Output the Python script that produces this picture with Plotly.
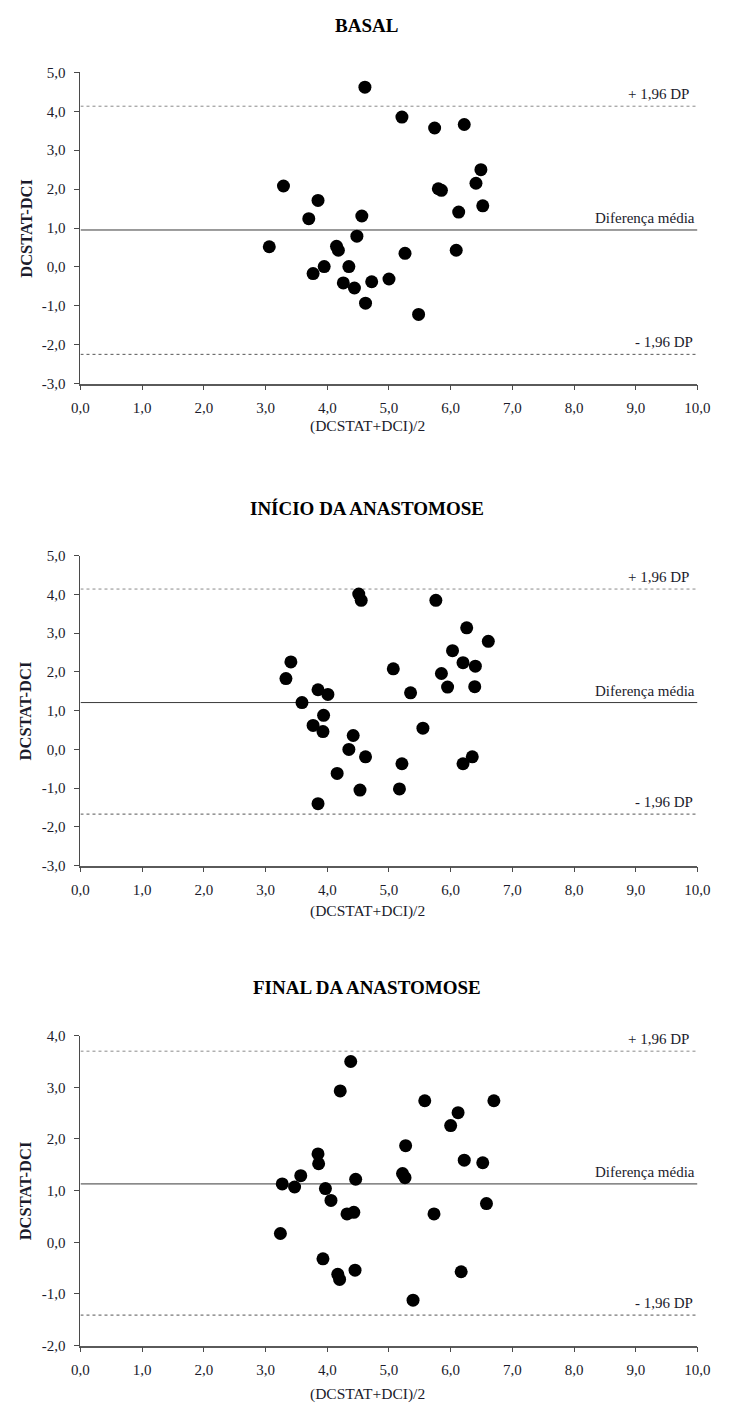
import plotly.graph_objects as go

# ---------------- data ----------------
basal_x = [4.61, 5.21, 5.74, 6.22, 6.49, 6.41, 3.29, 5.80, 5.85, 3.85, 6.52,
           3.70, 4.56, 6.13, 3.06, 4.48, 4.15, 4.18, 5.26, 6.09, 3.95, 3.77,
           4.35, 4.26, 4.44, 4.72, 5.00, 4.62, 5.48]
basal_y = [4.62, 3.85, 3.57, 3.66, 2.50, 2.15, 2.08, 2.01, 1.97, 1.71, 1.57,
           1.24, 1.31, 1.41, 0.52, 0.79, 0.53, 0.43, 0.35, 0.43, 0.01, -0.17,
           0.01, -0.41, -0.54, -0.38, -0.31, -0.93, -1.22]

inicio_x = [4.51, 4.55, 5.76, 6.26, 6.61, 6.03, 3.41, 6.20, 6.40, 5.07, 5.85,
            3.33, 5.95, 6.39, 3.85, 4.01, 5.35, 3.59, 3.94, 3.77, 3.93, 4.42,
            5.55, 4.35, 4.62, 5.21, 6.20, 6.35, 4.16, 4.53, 5.17, 3.85]
inicio_y = [4.01, 3.85, 3.85, 3.14, 2.79, 2.55, 2.26, 2.24, 2.15, 2.08, 1.96,
            1.83, 1.61, 1.62, 1.54, 1.42, 1.46, 1.21, 0.88, 0.62, 0.46, 0.36,
            0.55, 0.00, -0.19, -0.37, -0.37, -0.19, -0.62, -1.05, -1.02, -1.40]

final_x = [4.38, 4.21, 5.58, 6.70, 6.12, 6.00, 5.27, 3.85, 3.86, 6.22, 6.52,
           3.57, 3.27, 3.47, 3.97, 4.46, 5.22, 5.26, 4.06, 4.32, 4.43, 5.73,
           6.58, 3.24, 3.93, 4.17, 4.20, 4.45, 6.17, 5.39]
final_y = [3.50, 2.93, 2.74, 2.74, 2.51, 2.26, 1.87, 1.71, 1.52, 1.59, 1.54,
           1.29, 1.13, 1.07, 1.04, 1.22, 1.33, 1.25, 0.81, 0.55, 0.58, 0.55,
           0.75, 0.17, -0.32, -0.62, -0.72, -0.54, -0.57, -1.12]

# reference lines: [+1.96 SD, mean difference, -1.96 SD]
basal_lines = [4.13, 0.95, -2.245]
inicio_lines = [4.14, 1.21, -1.67]
final_lines = [3.70, 1.13, -1.41]

panel_titles = ["BASAL", "INÍCIO DA ANASTOMOSE", "FINAL DA ANASTOMOSE"]
line_labels = ["+ 1,96 DP", "Diferença média", "- 1,96 DP"]
x_title = "(DCSTAT+DCI)/2"
y_title = "DCSTAT-DCI"

x_ticks = [0, 1, 2, 3, 4, 5, 6, 7, 8, 9, 10]
basal_yticks = [-3, -2, -1, 0, 1, 2, 3, 4, 5]
inicio_yticks = [-3, -2, -1, 0, 1, 2, 3, 4, 5]
final_yticks = [-2, -1, 0, 1, 2, 3, 4]

# ---------------- layout geometry (page pixels) ----------------
PAGE_W, PAGE_H = 733, 1412
BODY = 8                       # default page body margin
W, H = PAGE_W - 2 * BODY, PAGE_H - 2 * BODY   # figure size so the page is exactly 733x1412

def px(xp):
    return (xp - BODY) / W

def py(yp):
    return 1 - (yp - BODY) / H

X_LEFT, X_RIGHT = 73.5, 710
panels = [
    dict(xs=basal_x, ys=basal_y, lines=basal_lines, yt=basal_yticks, top=65, bottom=380,
         title_y=18, xtitle_y=423),
    dict(xs=inicio_x, ys=inicio_y, lines=inicio_lines, yt=inicio_yticks, top=554, bottom=867.5,
         title_y=506, xtitle_y=913),
    dict(xs=final_x, ys=final_y, lines=final_lines, yt=final_yticks, top=1039.5, bottom=1353,
         title_y=991, xtitle_y=1402),
]

FONT = "Liberation Serif, Times New Roman, serif"
TXT = "#1b1b2b"

def fmt(v):
    return f"{v:.1f}".replace(".", ",")

fig = go.Figure()
annotations = []
shapes = []
line_styles = [dict(color="#8a8a8a", width=1, dash="dot"),
               dict(color="#3a3a3a", width=1, dash="solid"),
               dict(color="#555555", width=1, dash="dot")]
label_xshift = [-6, 0, -2]

for i, p in enumerate(panels, start=1):
    xa = "x" if i == 1 else f"x{i}"
    ya = "y" if i == 1 else f"y{i}"
    fig.add_trace(go.Scatter(
        x=p["xs"], y=p["ys"], mode="markers", xaxis=xa, yaxis=ya,
        marker=dict(color="black", size=13, line=dict(width=0)),
        showlegend=False, hoverinfo="x+y"))

    yd = [py(p["bottom"]), py(p["top"])]
    xd = [px(X_LEFT), px(X_RIGHT)]
    axkey = "xaxis" if i == 1 else f"xaxis{i}"
    aykey = "yaxis" if i == 1 else f"yaxis{i}"
    fig.update_layout(**{
        axkey: dict(domain=xd, range=[0, 10], anchor=ya, tickvals=x_ticks,
                    ticktext=[fmt(v) for v in x_ticks], showgrid=False, zeroline=False,
                    showline=True, linecolor="#5a5a5a", linewidth=1.5,
                    ticks="outside", ticklen=5, tickcolor="#4a4a4a",
                    ticklabelstandoff=5,
                    tickfont=dict(family=FONT, size=15, color=TXT)),
        aykey: dict(domain=yd, range=[p["yt"][0], p["yt"][-1]], anchor=xa,
                    tickvals=p["yt"], ticktext=[fmt(v) for v in p["yt"]],
                    showgrid=False, zeroline=False, showline=True,
                    linecolor="#4a4a4a", linewidth=1, ticks="outside", ticklen=5,
                    tickcolor="#4a4a4a", ticklabelstandoff=6,
                    tickfont=dict(family=FONT, size=15, color=TXT)),
    })

    for val, st, lab, xs in zip(p["lines"], line_styles, line_labels, label_xshift):
        shapes.append(dict(type="line", xref=xa, yref=ya, x0=0, x1=10, y0=val, y1=val,
                           line=st, layer="below"))
        annotations.append(dict(x=10, y=val, xref=xa, yref=ya, text=lab, showarrow=False,
                                xanchor="right", yanchor="middle", yshift=12, xshift=xs,
                                font=dict(family=FONT, size=15, color=TXT)))

    annotations.append(dict(x=px(369), y=py(p["title_y"]), xref="paper", yref="paper",
                            text=f"<b>{panel_titles[i-1]}</b>", showarrow=False,
                            xanchor="center", yanchor="middle",
                            font=dict(family=FONT, size=19, color="black")))
    annotations.append(dict(x=px(370), y=py(p["xtitle_y"]),
                            xref="paper", yref="paper", text=x_title, showarrow=False,
                            xanchor="center", yanchor="middle",
                            font=dict(family=FONT, size=15.5, color=TXT)))
    annotations.append(dict(x=px(17), y=py((p["top"] + p["bottom"]) / 2),
                            xref="paper", yref="paper", text=f"<b>{y_title}</b>",
                            showarrow=False, textangle=-90, xanchor="center",
                            yanchor="middle", font=dict(family=FONT, size=16.5, color=TXT)))

fig.update_layout(width=W, height=H, margin=dict(l=0, r=0, t=0, b=0),
                  plot_bgcolor="white", paper_bgcolor="white",
                  shapes=shapes, annotations=annotations, showlegend=False)

fig.write_html("out.html", config={"displayModeBar": False})
